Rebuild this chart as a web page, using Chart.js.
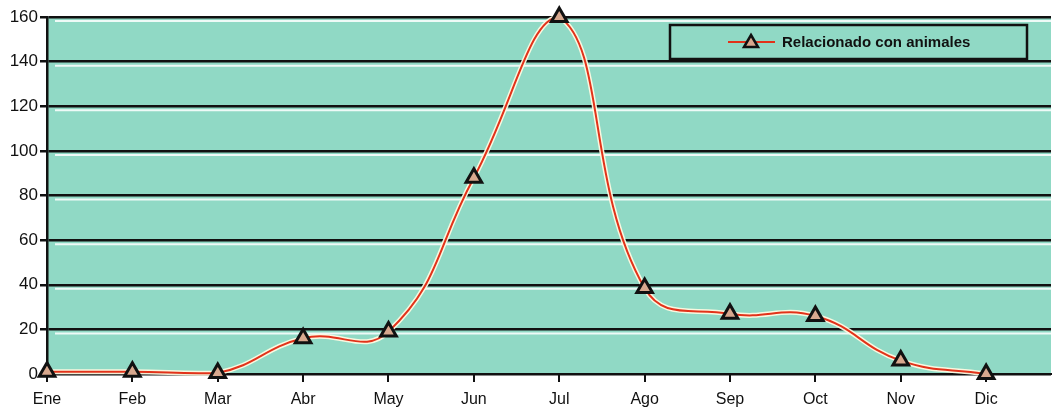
<!DOCTYPE html>
<html>
<head>
<meta charset="utf-8">
<script src="https://cdn.jsdelivr.net/npm/chart.js@4"></script>
<style>
  body { margin: 0; background: #fff; }
  #wrap { width: 1063px; height: 412px; }
</style>
</head>
<body>
<div id="wrap"><canvas id="chart"></canvas></div>
<script>
const months = ["Ene", "Feb", "Mar", "Abr", "May", "Jun", "Jul", "Ago", "Sep", "Oct", "Nov", "Dic"];
const animales = [1, 1, 0.5, 16, 19, 88, 160, 38.5, 27, 26, 6, 0];
const yTicks = [0, 20, 40, 60, 80, 100, 120, 140, 160];
const seriesLabel = "Relacionado con animales";

const teal = "#90d9c5";
const lineRed = "#e2321a";
const markerFill = "#d8a88e";

const points = animales.map((v, i) => ({ x: i, y: v }));

// teal plot background plus the pale line under each grid line
const plotBackground = {
  id: "plotBackground",
  beforeDraw(chart) {
    const { ctx, chartArea, scales } = chart;
    ctx.save();
    ctx.fillStyle = teal;
    ctx.fillRect(chartArea.left, chartArea.top, chartArea.right - chartArea.left, chartArea.bottom - chartArea.top);
    ctx.strokeStyle = "rgba(255,255,255,0.85)";
    ctx.lineWidth = 2;
    yTicks.forEach((t) => {
      const y = scales.y.getPixelForValue(t) + 4;
      if (y < chartArea.bottom) {
        ctx.beginPath();
        ctx.moveTo(chartArea.left + 8, y);
        ctx.lineTo(chartArea.right, y);
        ctx.stroke();
      }
    });
    ctx.restore();
  },
};

// legend box drawn inside the plot, top right
const boxLegend = {
  id: "boxLegend",
  afterDatasetsDraw(chart) {
    const { ctx } = chart;
    const x = 670, y = 25, w = 357, h = 34;
    ctx.save();
    ctx.fillStyle = teal;
    ctx.fillRect(x, y, w, h);
    ctx.strokeStyle = "#111";
    ctx.lineWidth = 2.5;
    ctx.strokeRect(x, y, w, h);
    const cy = y + h / 2;
    ctx.strokeStyle = lineRed;
    ctx.lineWidth = 2;
    ctx.beginPath();
    ctx.moveTo(728, cy);
    ctx.lineTo(775, cy);
    ctx.stroke();
    ctx.beginPath();
    ctx.moveTo(751, cy - 7);
    ctx.lineTo(758, cy + 5);
    ctx.lineTo(744, cy + 5);
    ctx.closePath();
    ctx.fillStyle = markerFill;
    ctx.fill();
    ctx.strokeStyle = "#111";
    ctx.lineWidth = 2.5;
    ctx.stroke();
    ctx.fillStyle = "#111";
    ctx.font = "bold 15px 'Liberation Sans', Arial, sans-serif";
    ctx.textBaseline = "middle";
    ctx.fillText(seriesLabel, 782, cy + 1);
    ctx.restore();
  },
};

new Chart(document.getElementById("chart"), {
  type: "line",
  data: {
    datasets: [
      {
        label: seriesLabel,
        data: points,
        borderColor: lineRed,
        borderWidth: 2,
        tension: 0.45,
        clip: false,
        pointStyle: "triangle",
        pointRadius: 9,
        pointBackgroundColor: markerFill,
        pointBorderColor: "#111",
        pointBorderWidth: 3,
        order: 0,
      },
      {
        label: "halo",
        data: points,
        borderColor: "rgba(255,250,225,0.95)",
        borderWidth: 5,
        tension: 0.45,
        clip: false,
        pointRadius: 0,
        order: 1,
      },
    ],
  },
  options: {
    responsive: true,
    maintainAspectRatio: false,
    animation: false,
    layout: { padding: { top: 17, right: 0, left: 0, bottom: 0 } },
    scales: {
      x: {
        type: "linear",
        min: 0,
        max: 11.76,
        afterFit(scale) { scale.height = 38; },
        border: { color: "#111", width: 2 },
        grid: { drawOnChartArea: false, color: "#111", lineWidth: 2, tickLength: 8 },
        afterBuildTicks(scale) {
          scale.ticks = months.map((m, i) => ({ value: i }));
        },
        ticks: {
          autoSkip: false,
          maxRotation: 0,
          color: "#111",
          padding: 8,
          font: { family: "'Liberation Sans', Arial, sans-serif", size: 16 },
          callback: (v) => months[v] ?? "",
        },
      },
      y: {
        min: 0,
        max: 160,
        afterFit(scale) { scale.width = 47; },
        border: { color: "#111", width: 2.5 },
        grid: { color: "#111", lineWidth: 2.5, tickLength: 7 },
        afterBuildTicks(scale) {
          scale.ticks = yTicks.map((v) => ({ value: v }));
        },
        ticks: {
          color: "#111",
          padding: 2,
          font: { family: "'Liberation Sans', Arial, sans-serif", size: 17 },
        },
      },
    },
    plugins: {
      legend: { display: false },
      tooltip: { enabled: false },
    },
  },
  plugins: [plotBackground, boxLegend],
});
</script>
</body>
</html>
